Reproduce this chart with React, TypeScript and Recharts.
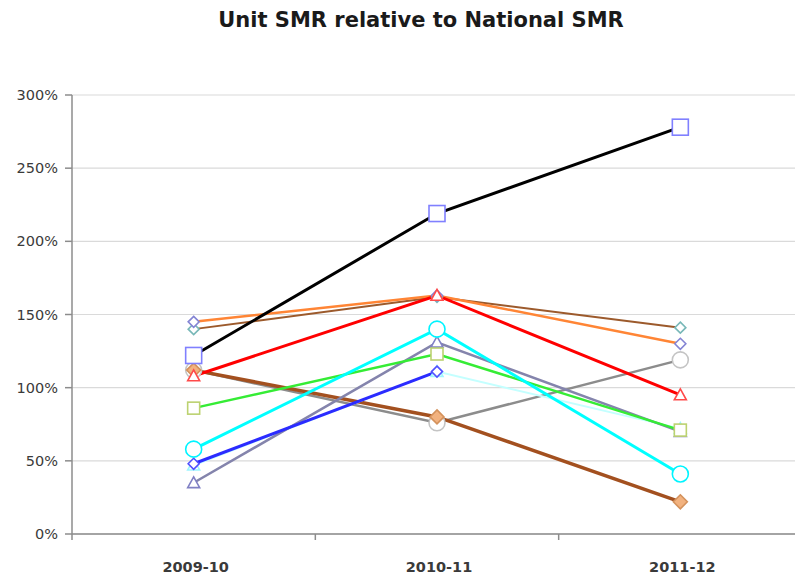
import React from "react";
import { LineChart, Line, XAxis, YAxis, CartesianGrid } from "recharts";

const categories = ["2009-10", "2010-11", "2011-12"];
const yTicks = [0, 50, 100, 150, 200, 250, 300];

// values in % of national SMR
const unit1 = [122, 219, 278];
const unit2 = [108, 163, 95];
const unit3 = [145, 163, 130];
const unit4 = [140, 162, 141];
const unit5 = [58, 140, 41];
const unit6 = [86, 123, 71];
const unit7 = [48, 111, null];
const unit8 = [47, 111, 72];
const unit9 = [35, 131, 70];
const unit10 = [112, 76, 119];
const unit11 = [112, 80, 22];

type Shape = "square" | "triangle" | "diamond" | "circle" | "diamondFilled";

const series = [
  { key: "u10", values: unit10, color: "#8c8c8c", width: 2.5, shape: "circle" as Shape, mark: "#c4c4c4", size: 8, fill: "#fff" },
  { key: "u11", values: unit11, color: "#a3501f", width: 3.5, shape: "diamondFilled" as Shape, mark: "#d4925c", size: 7, fill: "#f2b27f" },
  { key: "u8", values: unit8, color: "#c4ffff", width: 2, shape: "triangle" as Shape, mark: "#9ff5ff", size: 6, fill: "#fff" },
  { key: "u9", values: unit9, color: "#8484ac", width: 2.5, shape: "triangle" as Shape, mark: "#8080c4", size: 6, fill: "#fff" },
  { key: "u7", values: unit7, color: "#2b2bff", width: 3, shape: "diamond" as Shape, mark: "#5050ff", size: 5.5, fill: "#fff" },
  { key: "u6", values: unit6, color: "#35ec35", width: 2.5, shape: "square" as Shape, mark: "#bcd270", size: 6, fill: "#fff" },
  { key: "u5", values: unit5, color: "#00ffff", width: 3, shape: "circle" as Shape, mark: "#00f4ff", size: 8, fill: "#fff" },
  { key: "u4", values: unit4, color: "#9c5a2c", width: 2, shape: "diamond" as Shape, mark: "#78b8b8", size: 5.5, fill: "#fff" },
  { key: "u3", values: unit3, color: "#ff8535", width: 2.5, shape: "diamond" as Shape, mark: "#8484d4", size: 5.5, fill: "#fff" },
  { key: "u2", values: unit2, color: "#ff0000", width: 3, shape: "triangle" as Shape, mark: "#ff4a4a", size: 6, fill: "#fff" },
  { key: "u1", values: unit1, color: "#000000", width: 3, shape: "square" as Shape, mark: "#8080ff", size: 8, fill: "#fff" },
];

const data = categories.map((c, i) => {
  const row: Record<string, number | string | null> = { idx: i, name: c };
  series.forEach((s) => {
    row[s.key] = s.values[i];
  });
  return row;
});

function marker(props: any, s: (typeof series)[number]) {
  const { cx, cy, index } = props;
  const k = `${s.key}-${index}`;
  if (cx == null || cy == null || props.value == null) return <g key={k} />;
  const r = s.size;
  const common = { stroke: s.mark, strokeWidth: 1.6, fill: s.fill };
  if (s.shape === "square")
    return <rect key={k} x={cx - r} y={cy - r} width={r * 2} height={r * 2} {...common} />;
  if (s.shape === "circle") return <circle key={k} cx={cx} cy={cy} r={r} {...common} />;
  if (s.shape === "triangle")
    return (
      <polygon key={k} points={`${cx},${cy - r} ${cx + r},${cy + r * 0.8} ${cx - r},${cy + r * 0.8}`} {...common} />
    );
  return (
    <polygon key={k} points={`${cx},${cy - r} ${cx + r},${cy} ${cx},${cy + r} ${cx - r},${cy}`} {...common} />
  );
}

function XTick(props: any) {
  const { x, y, payload } = props;
  const v = payload.value;
  if (Number.isInteger(v)) {
    return (
      <text x={x + 2} y={y + 38} textAnchor="middle" fontFamily="DejaVu Sans" fontWeight="bold" fontSize={14.5} fill="#3a3a3a">
        {categories[v]}
      </text>
    );
  }
  return <line x1={x} y1={y} x2={x} y2={y + 6} stroke="#8c8c8c" strokeWidth={1.5} />;
}

export default function App() {
  return (
    <div style={{ position: "absolute", left: 0, top: 0, width: 795, height: 584, overflow: "hidden", background: "#fff" }}>
      <div
        style={{
          position: "absolute",
          left: 0,
          top: 8,
          width: 842,
          textAlign: "center",
          fontFamily: "DejaVu Sans",
          fontWeight: "bold",
          fontSize: 21,
          color: "#1a1a1a",
        }}
      >
        Unit SMR relative to National SMR
      </div>
      <LineChart width={802} height={584} data={data} margin={{ top: 95, right: 0, left: 0, bottom: 0 }}>
        <CartesianGrid vertical={false} stroke="#dadada" strokeWidth={1.2} />
        <XAxis
          dataKey="idx"
          type="number"
          domain={[-0.5, 2.5]}
          ticks={[-0.5, 0, 0.5, 1, 1.5, 2]}
          interval={0}
          height={50}
          tickLine={false}
          tickSize={0}
          tickMargin={0}
          tick={<XTick />}
          axisLine={{ stroke: "#8c8c8c", strokeWidth: 1.5 }}
        />
        <YAxis
          width={72}
          domain={[0, 300]}
          ticks={yTicks}
          interval={0}
          tickFormatter={(v) => `${v}%`}
          tickSize={7}
          tickMargin={7}
          tickLine={{ stroke: "#8c8c8c", strokeWidth: 1.5 }}
          axisLine={{ stroke: "#8c8c8c", strokeWidth: 1.5 }}
          tick={{ fontFamily: "DejaVu Sans", fontSize: 14.5, fill: "#3a3a3a" }}
        />
        {series.map((s) => (
          <Line
            key={s.key}
            dataKey={s.key}
            stroke={s.color}
            strokeWidth={s.width}
            dot={(p: any) => marker(p, s)}
            activeDot={false}
            isAnimationActive={false}
            connectNulls={false}
          />
        ))}
      </LineChart>
    </div>
  );
}
